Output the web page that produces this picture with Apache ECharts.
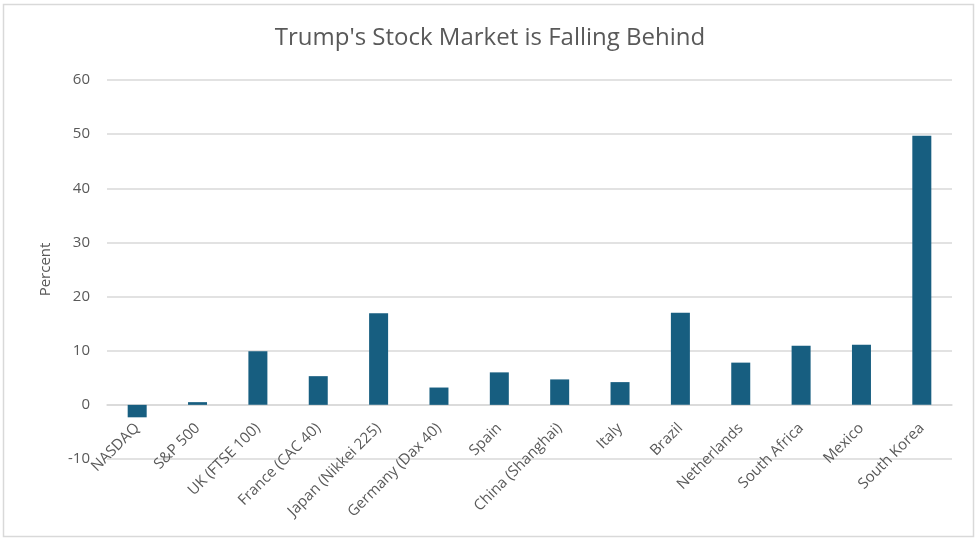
<!DOCTYPE html>
<html>
<head>
<meta charset="utf-8">
<script src="https://cdn.jsdelivr.net/npm/echarts@6/dist/echarts.min.js"></script>
<style>
html,body{margin:0;padding:0;background:#fff;}
#main{width:980px;height:542px;}
</style>
</head>
<body>
<div id="main"></div>
<script>
const categories = ["NASDAQ","S&P 500","UK (FTSE 100)","France (CAC 40)","Japan (Nikkei 225)","Germany (Dax 40)","Spain","China (Shanghai)","Italy","Brazil","Netherlands","South Africa","Mexico","South Korea"];
const percentValues = [-2.3, 0.5, 9.9, 5.3, 16.9, 3.2, 6.0, 4.7, 4.2, 17.0, 7.8, 10.9, 11.1, 49.7];
const yTicks = { min: -10, max: 60, interval: 10 };

const chart = echarts.init(document.getElementById('main'));
const textColor = '#595959';
const font = 'Open Sans, Liberation Sans, sans-serif';
const gridTop = 80, gridBottom = 83;
const plotH = 542 - gridTop - gridBottom;
const zeroOffset = -plotH * (0 - yTicks.min) / (yTicks.max - yTicks.min);
chart.setOption({
  backgroundColor: '#fff',
  animation: false,
  graphic: [{
    type: 'rect',
    shape: { x: 3.5, y: 4.5, width: 970, height: 532 },
    style: { fill: 'none', stroke: '#d9d9d9', lineWidth: 1.5 },
    silent: true
  }],
  title: {
    text: "Trump's Stock Market is Falling Behind",
    left: 'center',
    top: 21,
    textStyle: { color: textColor, fontSize: 24, fontWeight: 'normal', fontFamily: font }
  },
  grid: { left: 107, right: 28, top: gridTop, bottom: gridBottom, containLabel: false, outerBoundsMode: 'none' },
  xAxis: {
    type: 'category',
    data: categories,
    offset: zeroOffset,
    axisLine: { onZero: false, lineStyle: { color: '#d9d9d9', width: 1.5 } },
    axisTick: { show: false },
    axisLabel: { rotate: 45, color: textColor, fontSize: 15, fontFamily: font, interval: 0, margin: 21 }
  },
  yAxis: {
    type: 'value',
    min: yTicks.min, max: yTicks.max, interval: yTicks.interval,
    name: 'Percent',
    nameLocation: 'middle',
    nameGap: 54,
    nameTextStyle: { color: textColor, fontSize: 15, fontFamily: font },
    axisLine: { show: false },
    axisTick: { show: false },
    axisLabel: { color: textColor, fontSize: 15, fontFamily: font, margin: 17 },
    splitLine: { lineStyle: { color: '#d9d9d9', width: 1.5 } }
  },
  series: [{
    type: 'bar',
    data: percentValues,
    barWidth: 19,
    itemStyle: { color: '#175e80' }
  }]
});
</script>
</body>
</html>
